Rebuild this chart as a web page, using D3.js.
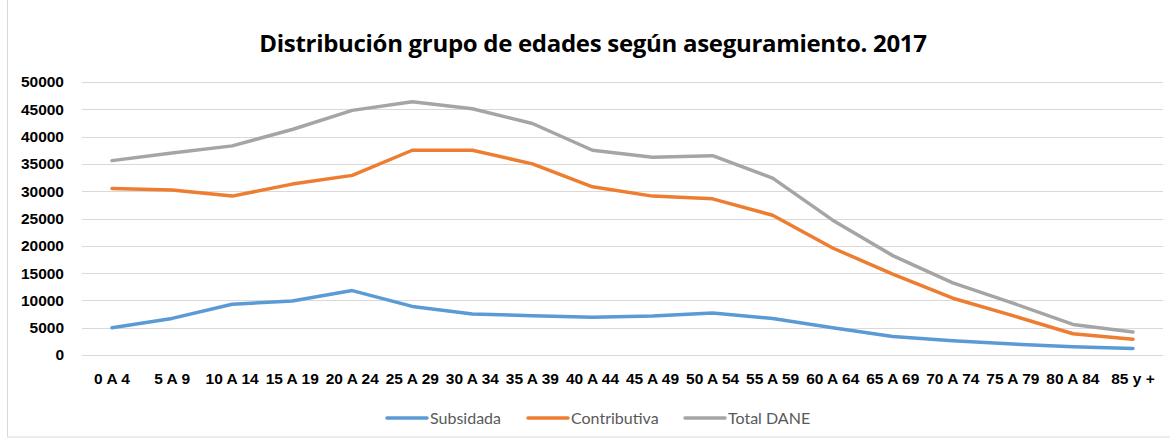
<!DOCTYPE html>
<html>
<head>
<meta charset="utf-8">
<script src="https://cdn.jsdelivr.net/npm/d3@7"></script>
<style>
  body { margin: 0; background: #fff; }
  svg { display: block; font-family: Lato, "Open Sans", sans-serif; }
</style>
</head>
<body>
<svg id="chart" width="1170" height="441"></svg>
<script>
// Age groups (x categories)
const ageGroups = ["0 A 4", "5 A 9", "10 A 14", "15 A 19", "20 A 24", "25 A 29", "30 A 34",
  "35 A 39", "40 A 44", "45 A 49", "50 A 54", "55 A 59", "60 A 64", "65 A 69",
  "70 A 74", "75 A 79", "80 A 84", "85 y +"];

// Series values
const subsidada = [5000, 6700, 9300, 9900, 11800, 8900, 7500, 7200, 6900, 7150, 7700, 6700,
  5000, 3400, 2600, 2000, 1500, 1200];
const contributiva = [30500, 30200, 29100, 31300, 32900, 37500, 37500, 35000, 30800, 29100,
  28600, 25600, 19600, 14800, 10400, 7200, 3900, 2900];
const totalDane = [35600, 37000, 38300, 41300, 44800, 46400, 45100, 42400, 37500, 36200,
  36500, 32400, 24700, 18200, 13200, 9500, 5600, 4200];

const yTicks = [0, 5000, 10000, 15000, 20000, 25000, 30000, 35000, 40000, 45000, 50000];

const seriesNames = ["Subsidada", "Contributiva", "Total DANE"];
const seriesColors = ["#5b9bd5", "#ed7d31", "#a5a5a5"];

const margin = { top: 82, right: 7, bottom: 86, left: 82 };
const totalWidth = 1170, totalHeight = 441;
const width = totalWidth - margin.left - margin.right;
const height = totalHeight - margin.top - margin.bottom;

const svg = d3.select("#chart");

// chart frame
svg.append("rect")
  .attr("x", 7.5).attr("y", -1)
  .attr("width", 1170).attr("height", 438)
  .attr("fill", "none")
  .attr("stroke", "#d9d9d9");

// title
svg.append("text")
  .attr("x", 593).attr("y", 52)
  .attr("text-anchor", "middle")
  .style("font-family", "'Open Sans', sans-serif")
  .style("font-size", "24px")
  .style("font-weight", "bold")
  .style("letter-spacing", "-0.3px")
  .attr("fill", "#000")
  .text("Distribución grupo de edades según aseguramiento. 2017");

const g = svg.append("g")
  .attr("transform", `translate(${margin.left},${margin.top})`);

// Scales
const xScale = d3.scaleBand()
  .domain(ageGroups)
  .range([0, width]);

const yScale = d3.scaleLinear()
  .domain([0, 50000])
  .range([height, 0]);

// Gridlines
g.append("g")
  .selectAll("line")
  .data(yTicks)
  .enter().append("line")
  .attr("x1", 0).attr("x2", width)
  .attr("y1", d => Math.round(yScale(d)) + 0.5)
  .attr("y2", d => Math.round(yScale(d)) + 0.5)
  .attr("stroke", "#d9d9d9")
  .attr("stroke-width", 1);

// Axes
const yAxis = g.append("g")
  .call(d3.axisLeft(yScale).tickValues(yTicks).tickSize(0).tickPadding(18).tickFormat(d3.format("d")));
yAxis.select(".domain").remove();
yAxis.selectAll("text")
  .style("font-size", "15.5px")
  .style("font-weight", "bold")
  .attr("fill", "#000");

const xAxis = g.append("g")
  .attr("transform", `translate(0,${height})`)
  .call(d3.axisBottom(xScale).tickSize(0).tickPadding(18));
xAxis.select(".domain").remove();
xAxis.selectAll("text")
  .style("font-size", "15.5px")
  .style("font-weight", "bold")
  .attr("fill", "#000");

// Lines
const allSeries = [subsidada, contributiva, totalDane];
const line = d3.line()
  .x((d, i) => xScale(ageGroups[i]) + xScale.bandwidth() / 2)
  .y(d => yScale(d));

allSeries.forEach(function(values, k) {
  g.append("path")
    .datum(values)
    .attr("fill", "none")
    .attr("stroke", seriesColors[k])
    .attr("stroke-width", 3.5)
    .attr("stroke-linejoin", "round")
    .attr("stroke-linecap", "round")
    .attr("d", line);
});

// Legend
const legendX = [387, 528, 685];
const legend = svg.append("g");
seriesNames.forEach(function(name, k) {
  legend.append("line")
    .attr("x1", legendX[k]).attr("x2", legendX[k] + 40)
    .attr("y1", 418).attr("y2", 418)
    .attr("stroke", seriesColors[k])
    .attr("stroke-width", 3.5)
    .attr("stroke-linecap", "round");
  legend.append("text")
    .attr("x", legendX[k] + 43).attr("y", 423.5)
    .style("font-size", "16px")
    .attr("fill", "#595959")
    .text(name);
});
</script>
</body>
</html>
